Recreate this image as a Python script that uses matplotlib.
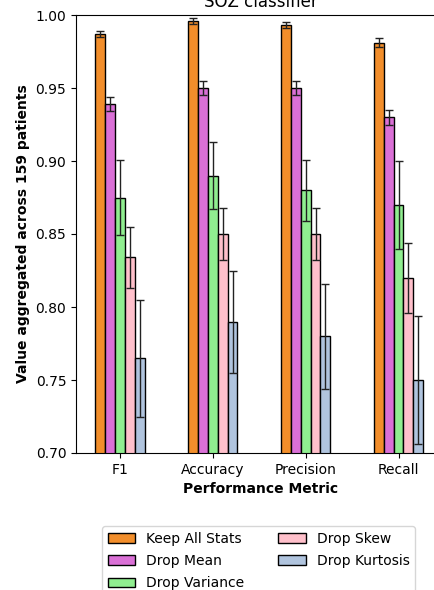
import matplotlib.pyplot as plt
import numpy as np

metrics = ['F1', 'Accuracy', 'Precision', 'Recall']
conditions = ['Keep All Stats', 'Drop Mean', 'Drop Variance', 'Drop Skew', 'Drop Kurtosis']
colors = ['#f28e2b', '#da70d6', '#90ee90', '#ffc0cb', '#b0c4de']

# mean value per condition, one entry per metric
keep_all = [0.987, 0.996, 0.993, 0.981]
drop_mean = [0.939, 0.950, 0.950, 0.930]
drop_var = [0.875, 0.890, 0.880, 0.870]
drop_skew = [0.834, 0.850, 0.850, 0.820]
drop_kurt = [0.765, 0.790, 0.780, 0.750]

keep_all_err = [0.002, 0.002, 0.002, 0.003]
drop_mean_err = [0.005, 0.005, 0.005, 0.005]
drop_var_err = [0.026, 0.023, 0.021, 0.030]
drop_skew_err = [0.021, 0.018, 0.018, 0.024]
drop_kurt_err = [0.040, 0.035, 0.036, 0.044]

means = [keep_all, drop_mean, drop_var, drop_skew, drop_kurt]
errs = [keep_all_err, drop_mean_err, drop_var_err, drop_skew_err, drop_kurt_err]

fig = plt.figure(figsize=(4.35, 5.90), dpi=100)
# axes runs a little past the right edge, like the cropped original
ax = fig.add_axes([76/435, 1 - 453/590, (445 - 76)/435, (453 - 15)/590])

x = np.arange(len(metrics))
w = 0.107
for i in range(len(conditions)):
    ax.bar(x + (i - 2) * w, means[i], w, yerr=errs[i], color=colors[i],
           edgecolor='black', linewidth=1, capsize=3, label=conditions[i],
           error_kw=dict(ecolor='#222222', elinewidth=1, capthick=1))

ax.set_ylim(0.70, 1.00)
ax.set_xlim(-0.47, 3.5)
ax.set_xticks(x)
ax.set_xticklabels(metrics)
ax.set_title('SOZ classifier')
ax.set_ylabel('Value aggregated across 159 patients', fontweight='bold')
ax.set_xlabel('Performance Metric', fontweight='bold')

fig.legend(loc='upper left', bbox_to_anchor=(102/435, 1 - 526/590), ncol=2,
           borderaxespad=0, columnspacing=2.4, labelspacing=0.6)

fig.savefig('out.png', dpi=100)
